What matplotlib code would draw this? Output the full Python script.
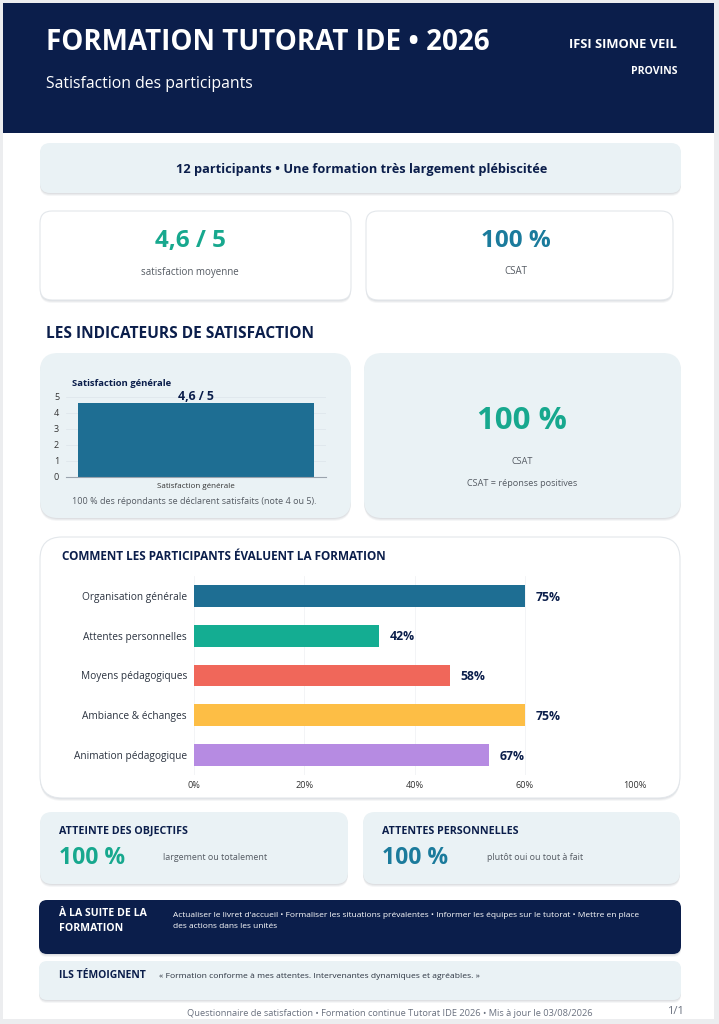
import matplotlib
matplotlib.use("Agg")
import matplotlib.pyplot as plt
from matplotlib.patches import FancyBboxPatch, Rectangle

# ---------------- data ----------------
title = "FORMATION TUTORAT IDE • 2026"
subtitle = "Satisfaction des participants"
org_name = "IFSI SIMONE VEIL"
org_city = "PROVINS"
banner_text = "12 participants • Une formation très largement plébiscitée"
kpi_values = ["4,6 / 5", "100 %"]
kpi_labels = ["satisfaction moyenne", "CSAT"]
sat_category = ["Satisfaction générale"]
sat_value = [4.6]
sat_yticks = [0, 1, 2, 3, 4, 5]
csat_value = "100 %"
eval_categories = ["Organisation générale", "Attentes personnelles", "Moyens pédagogiques",
                   "Ambiance & échanges", "Animation pédagogique"]
eval_values = [75, 42, 58, 75, 67]
eval_colors = ["#1E6E93", "#14AD92", "#F0675A", "#FDBE45", "#B68BE2"]
eval_tick_pos = [0, 25, 50, 75, 100]
eval_tick_labels = ["0%", "20%", "40%", "60%", "100%"]
obj_titles = ["ATTEINTE DES OBJECTIFS", "ATTENTES PERSONNELLES"]
obj_values = ["100 %", "100 %"]
obj_notes = ["largement ou totalement", "plutôt oui ou tout à fait"]
actions_title = "À LA SUITE DE LA\nFORMATION"
actions_text = ("Actualiser le livret d'accueil • Formaliser les situations prévalentes • Informer les équipes sur le tutorat • Mettre en place\n"
                "des actions dans les unités")
quote_title = "ILS TÉMOIGNENT"
quote_text = "« Formation conforme à mes attentes. Intervenantes dynamiques et agréables. »"
footer = "Questionnaire de satisfaction • Formation continue Tutorat IDE 2026 • Mis à jour le 03/08/2026"
page = "1/1"

# ---------------- style ----------------
NAVY = "#0B1E4B"
TEAL = "#17A88E"
BLUE = "#1B7B9C"
GRAY = "#555B63"
LIGHT = "#EAF2F5"
FONT = ["Open Sans", "DejaVu Sans"]
plt.rcParams["font.family"] = FONT

W, H = 719, 1024
fig = plt.figure(figsize=(W / 100, H / 100), dpi=100)
fig.patch.set_facecolor("#ECEDEF")
ax = fig.add_axes([0, 0, 1, 1])
ax.set_xlim(0, W)
ax.set_ylim(H, 0)
ax.axis("off")


def card(x0, y0, x1, y1, fc, ec="none", r=12, shadow=True, lw=0.8):
    if shadow:
        for d, a in [(3, 0.08), (2, 0.10), (1, 0.12)]:
            ax.add_patch(FancyBboxPatch((x0, y0 + d), x1 - x0, y1 - y0,
                                        boxstyle=f"round,pad=0,rounding_size={r}",
                                        fc="#8A9099", ec="none", alpha=a, zorder=1))
    ax.add_patch(FancyBboxPatch((x0, y0), x1 - x0, y1 - y0,
                                boxstyle=f"round,pad=0,rounding_size={r}",
                                fc=fc, ec=ec, lw=lw, zorder=2))


def px2fig(x0, y0, x1, y1):
    return [x0 / W, 1 - y1 / H, (x1 - x0) / W, (y1 - y0) / H]


# page
ax.add_patch(Rectangle((3, 3), 711, 1016, fc="white", ec="none", zorder=0))
# header
ax.add_patch(Rectangle((3, 3), 711, 130, fc=NAVY, ec="none", zorder=1))
ax.text(46, 42, title, color="white", fontsize=20, fontweight="bold", va="center", ha="left", zorder=3)
ax.text(46, 84, subtitle, color="white", fontsize=11.3, va="center", ha="left", zorder=3)
ax.text(677, 44, org_name, color="white", fontsize=9.3, fontweight="bold", va="center", ha="right", zorder=3)
ax.text(677, 72, org_city, color="white", fontsize=7.6, fontweight="bold", va="center", ha="right", zorder=3)

# banner
card(40, 143, 681, 193, LIGHT, r=10)
ax.text(362, 169, banner_text, color=NAVY, fontsize=9.2, fontweight="bold", ha="center", va="center", zorder=3)

# KPI cards
kpi_boxes = [(40, 211, 351, 300), (366, 211, 673, 300)]
kpi_cx = [190, 516]
kpi_colors = [TEAL, BLUE]
for (x0, y0, x1, y1), cx, v, l, c in zip(kpi_boxes, kpi_cx, kpi_values, kpi_labels, kpi_colors):
    card(x0, y0, x1, y1, "white", ec="#E3E7EB", r=12)
    ax.text(cx, 241, v, color=c, fontsize=17.5, fontweight="bold", ha="center", va="center", zorder=3)
    ax.text(cx, 272, l, color=GRAY, fontsize=7, ha="center", va="center", zorder=3)

# section title
ax.text(46, 334, "LES INDICATEURS DE SATISFACTION", color=NAVY, fontsize=11.2, fontweight="bold",
        ha="left", va="center", zorder=3)

# satisfaction card
card(40, 353, 351, 518, LIGHT, r=18)
ax.text(72, 384, "Satisfaction générale", color=NAVY, fontsize=6.8, fontweight="bold", ha="left", va="center", zorder=3)
ax.text(194, 502, "100 % des répondants se déclarent satisfaits (note 4 ou 5).", color=GRAY, fontsize=6.5,
        ha="center", va="center", zorder=3)

sax = fig.add_axes(px2fig(66, 397, 326, 477))
sax.set_facecolor("none")
sax.bar(sat_category, sat_value, width=0.91, color="#1E6E93", zorder=2)
sax.set_xlim(-0.5, 0.5)
sax.set_ylim(0, 5)
sax.set_yticks(sat_yticks)
sax.tick_params(axis="y", length=0, labelsize=6.5, labelcolor="#333333", pad=5)
sax.tick_params(axis="x", length=0, labelsize=5.8, labelcolor="#333333", pad=4)
for s in ["top", "right", "left"]:
    sax.spines[s].set_visible(False)
sax.spines["bottom"].set_color("#9AA3AD")
sax.spines["bottom"].set_linewidth(0.8)
sax.grid(axis="y", color="#DDE4EA", lw=0.5, zorder=0)
for i, v in enumerate(sat_value):
    sax.text(i, v + 0.03, "4,6 / 5", color=NAVY, fontsize=8.8, fontweight="bold", ha="center", va="bottom")

# CSAT card
card(364, 353, 681, 518, LIGHT, r=18)
ax.text(522, 421, csat_value, color=TEAL, fontsize=22.5, fontweight="bold", ha="center", va="center", zorder=3)
ax.text(522, 462, "CSAT", color=GRAY, fontsize=6.6, ha="center", va="center", zorder=3)
ax.text(522, 484, "CSAT = réponses positives", color=GRAY, fontsize=6.6, ha="center", va="center", zorder=3)

# evaluation card
card(40, 537, 680, 798, "white", ec="#E3E7EB", r=22)
ax.text(62, 556, "COMMENT LES PARTICIPANTS ÉVALUENT LA FORMATION", color=NAVY, fontsize=8.5,
        fontweight="bold", ha="left", va="center", zorder=3)
eax = fig.add_axes(px2fig(194, 576, 635, 775))
eax.set_facecolor("none")
ypos = list(range(len(eval_categories)))
eax.barh(ypos, eval_values, height=0.55, color=eval_colors, zorder=2)
eax.set_ylim(len(eval_categories) - 0.5, -0.5)
eax.set_xlim(0, 100)
eax.set_yticks(ypos)
eax.set_yticklabels(eval_categories)
eax.set_xticks(eval_tick_pos)
eax.set_xticklabels(eval_tick_labels)
eax.tick_params(axis="y", length=0, labelsize=7.3, labelcolor="#2B3340", pad=5)
eax.tick_params(axis="x", length=0, labelsize=6.6, labelcolor="#333333", pad=4)
for s in eax.spines.values():
    s.set_visible(False)
eax.grid(axis="x", color="#F1F3F5", lw=0.6, zorder=0)
for y, v in zip(ypos, eval_values):
    eax.text(v + 2.4, y + 0.03, f"{v}%", color=NAVY, fontsize=8.8, fontweight="bold", ha="left", va="center")

# objective cards
obj_boxes = [(40, 812, 348, 884), (363, 812, 680, 884)]
obj_colors = [TEAL, BLUE]
note_x = [163, 487]
for (x0, y0, x1, y1), t, v, n, c, nx in zip(obj_boxes, obj_titles, obj_values, obj_notes, obj_colors, note_x):
    card(x0, y0, x1, y1, LIGHT, r=12)
    ax.text(x0 + 19, 831, t, color=NAVY, fontsize=7.7, fontweight="bold", ha="left", va="center", zorder=3)
    ax.text(x0 + 19, 858, v, color=c, fontsize=16.5, fontweight="bold", ha="left", va="center", zorder=3)
    ax.text(nx, 857, n, color=GRAY, fontsize=6.4, ha="left", va="center", zorder=3)

# actions card
card(39, 900, 681, 954, NAVY, r=8)
ax.text(59, 921, actions_title, color="white", fontsize=7.6, fontweight="bold", ha="left", va="center",
        linespacing=1.4, zorder=3)
ax.text(173, 921, actions_text, color="white", fontsize=6.05, ha="left", va="center", linespacing=1.8, zorder=3)

# testimonial card
card(39, 961, 681, 1000, LIGHT, r=8)
ax.text(59, 976, quote_title, color=NAVY, fontsize=7.5, fontweight="bold", ha="left", va="center", zorder=3)
ax.text(159, 976, quote_text, color="#2B3340", fontsize=6.1, ha="left", va="center", zorder=3)

# footer
ax.text(390, 1013, footer, color="#6B7280", fontsize=6.7, ha="center", va="center", zorder=3)
ax.text(684, 1012, page, color="#6B7280", fontsize=8, ha="right", va="center", zorder=3)

fig.savefig("out.png", dpi=100, facecolor=fig.get_facecolor())
